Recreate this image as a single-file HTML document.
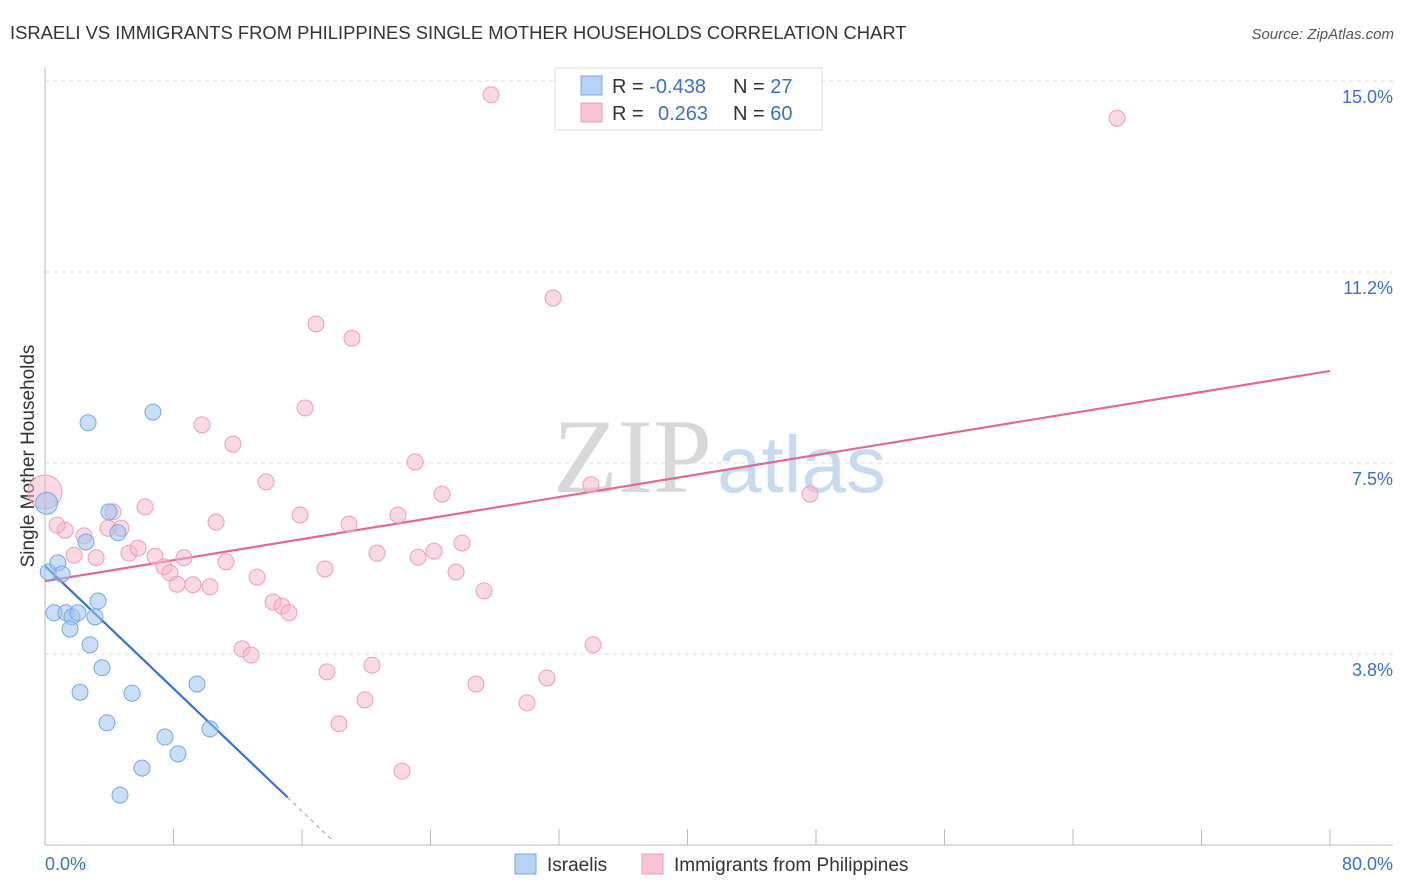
<!DOCTYPE html>
<html><head><meta charset="utf-8"><style>
body{margin:0;background:#fff;font-family:"Liberation Sans",sans-serif;}
svg{display:block}
</style></head><body>
<svg id="chart" width="1406" height="892">
<text x="10" y="39" font-size="18.4" fill="#333">ISRAELI VS IMMIGRANTS FROM PHILIPPINES SINGLE MOTHER HOUSEHOLDS CORRELATION CHART</text>
<text x="1394" y="39" font-size="15" fill="#555" font-style="italic" text-anchor="end">Source: ZipAtlas.com</text>
<text transform="translate(34,456) rotate(-90)" font-size="19" fill="#333" text-anchor="middle">Single Mother Households</text>
<g><text x="553" y="492" font-family="Liberation Serif" font-size="106" fill="#d8d8d8">ZIP</text><text x="717" y="492" font-size="80" fill="#c8daf0">atlas</text></g>
<g id="grid"></g><g id="axes"></g><g id="trend"></g><g id="points"></g>
<g>
<rect x="555" y="68" width="267" height="62" fill="#fff" stroke="#ddd"/>
<rect x="581" y="76" width="21" height="19" fill="#b8d2f4" stroke="#7aa8e4"/>
<rect x="581" y="103" width="21" height="19" fill="#f8c4d4" stroke="#eca0b8"/>
<text x="612" y="93" font-size="20" fill="#333">R = <tspan fill="#3a70cc">-0.438</tspan><tspan x="733">N = </tspan><tspan fill="#3a70cc">27</tspan></text>
<text x="612" y="120" font-size="20" fill="#333">R = <tspan x="658" fill="#3a70cc">0.263</tspan><tspan x="733">N = </tspan><tspan fill="#3a70cc">60</tspan></text>
</g>
<g>
<rect x="515" y="854" width="21" height="20" fill="#b8d2f4" stroke="#7aa8e4"/>
<text x="547" y="871" font-size="19" fill="#333">Israelis</text>
<rect x="642" y="854" width="21" height="20" fill="#f8c4d4" stroke="#eca0b8"/>
<text x="674" y="871" font-size="19" fill="#333">Immigrants from Philippines</text>
</g>
</svg>
<script>
const xTicksLabels=["0.0%","80.0%"];
const yTickValues=[15.0,11.25,7.5,3.75];
const yTickLabels=["15.0%","11.2%","7.5%","3.8%"];
const israeliX=[0.1,0.2,0.8,1.06,0.56,1.3,1.68,2.05,1.56,3.11,3.3,2.68,3.98,4.54,2.55,2.8,3.55,2.18,5.42,3.86,7.47,8.28,6.04,4.67,9.46,10.27,6.72];
const israeliY=[6.71,5.36,5.54,5.32,4.56,4.56,4.48,4.56,4.24,4.48,4.79,8.29,6.54,6.13,5.95,3.93,3.48,3.0,2.98,2.40,2.12,1.79,1.51,0.98,3.16,2.28,8.50];
const philX=[27.77,66.74,31.63,16.87,19.11,16.19,9.77,11.70,23.04,13.76,24.72,33.99,47.63,6.23,15.88,21.98,10.65,18.93,4.23,4.73,3.92,1.25,2.43,0.75,1.81,3.18,5.23,5.79,6.85,8.65,11.27,20.67,23.22,24.22,25.96,7.41,7.78,17.43,25.59,13.20,8.22,9.21,10.27,27.33,14.20,14.76,15.19,12.27,12.83,34.12,20.36,17.56,19.92,26.83,31.25,30.01,18.30,22.23,0.0];
const philY=[14.73,14.27,10.74,10.23,9.95,8.58,8.25,7.87,7.52,7.13,6.89,7.07,6.89,6.64,6.48,6.48,6.34,6.30,6.54,6.22,6.22,6.18,6.07,6.28,5.69,5.64,5.73,5.83,5.67,5.64,5.56,5.73,5.65,5.77,5.93,5.46,5.34,5.42,5.36,5.26,5.12,5.11,5.07,4.99,4.77,4.69,4.56,3.85,3.73,3.93,3.53,3.40,2.85,3.16,3.28,2.79,2.38,1.45,6.93];
const israeliLarge=[0];const philLarge=[58];
const israeliTrend=[5.48,-0.301];
const philTrend=[5.18,0.0516];
const NS="http://www.w3.org/2000/svg";
const X=v=>45+v*1285/80, Y=v=>845-v*50.93;
function mk(tag,attrs,parent){const e=document.createElementNS(NS,tag);for(const k in attrs)e.setAttribute(k,attrs[k]);parent.appendChild(e);return e;}
const grid=document.getElementById('grid'),axes=document.getElementById('axes'),trend=document.getElementById('trend'),pts=document.getElementById('points');
yTickValues.forEach((v,i)=>{
 const l=mk('line',{x1:45,x2:1393,y1:Y(v),y2:Y(v),stroke:'#ddd','stroke-dasharray':'4,4'},grid);
 
 
 const t=mk('text',{x:1393,y:Y(v)+22,'font-size':18,fill:'#3a70cc','text-anchor':'end'},axes);t.textContent=yTickLabels[i];
 
 
});
mk('line',{x1:45,x2:45,y1:68,y2:845,stroke:'#bbb'},axes);
const xa=mk('line',{x1:45,x2:1393,y1:845,y2:845,stroke:'#bbb'},axes);


for(let i=0;i<=10;i++){const tk=mk('line',{x1:X(i*8),x2:X(i*8),y1:829,y2:845,stroke:'#bbb'},axes);
 
 }
const t0=mk('text',{x:45,y:870,'font-size':18,fill:'#3a70cc'},axes);t0.textContent=xTicksLabels[0];


const t1=mk('text',{x:1393,y:870,'font-size':18,fill:'#3a70cc','text-anchor':'end'},axes);t1.textContent=xTicksLabels[1];


function dot(x,y,r,fill,stroke,name){const c=mk('circle',{cx:X(x),cy:Y(y),r:r,fill:fill,stroke:stroke,'stroke-width':1},pts);
 
 }
philX.forEach((x,i)=>dot(x,philY[i],philLarge.includes(i)?17:8,'rgba(245,180,200,0.5)','#eaa0b8','philippines-point'));
israeliX.forEach((x,i)=>dot(x,israeliY[i],israeliLarge.includes(i)?11:8,'rgba(160,195,240,0.55)','#78a6e2','israeli-point'));
const pl=mk('line',{x1:X(0),y1:Y(philTrend[0]),x2:X(80),y2:Y(philTrend[0]+philTrend[1]*80),stroke:'#e46896','stroke-width':2.2},trend);


const il=mk('line',{x1:X(0),y1:Y(israeliTrend[0]),x2:X(15.1),y2:Y(israeliTrend[0]+israeliTrend[1]*15.1),stroke:'#2f72d8','stroke-width':2.2},trend);


const id=mk('line',{x1:X(15.1),y1:Y(israeliTrend[0]+israeliTrend[1]*15.1),x2:X(17.8),y2:Y(israeliTrend[0]+israeliTrend[1]*17.8),stroke:'#aac','stroke-width':1.2,'stroke-dasharray':'4,4'},trend);


</script>
</body></html>
